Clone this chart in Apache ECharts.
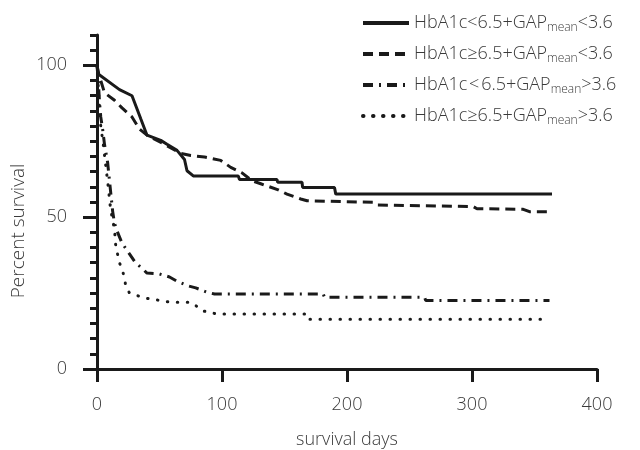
<!DOCTYPE html>
<html>
<head>
<meta charset="utf-8">
<script src="https://cdn.jsdelivr.net/npm/echarts@6/dist/echarts.min.js"></script>
<style>
html,body{margin:0;padding:0;background:#fff;}
#chart{width:640px;height:450px;}
</style>
</head>
<body>
<div id="chart"></div>
<script>
// ---- data ----
var seriesNames = [
  'HbA1c<6.5+GAPmean<3.6',
  'HbA1c≥6.5+GAPmean<3.6',
  'HbA1c\u200a<\u200a6.5+GAPmean>3.6',
  'HbA1c≥6.5+GAPmean>3.6'
];
var xTicks = [0, 100, 200, 300, 400];
var yLabels = [0, 50, 100];

var days1 = [0, 1, 1.5, 18, 28, 29, 35, 40, 51, 56, 64, 70, 72, 77, 113, 114, 144, 144.5, 164, 164.5, 190, 191, 364];
var surv1 = [100, 100, 97, 92, 90, 89.5, 82.4, 77, 75.3, 74, 72, 69, 65.3, 63.6, 63.6, 62.4, 62.4, 61.5, 61.5, 59.8, 59.8, 57.6, 57.6];

var days2 = [0, 1, 3, 6, 14, 20, 28, 34, 40, 54, 67, 75, 86, 99, 107, 116, 124, 131, 145, 152, 163, 168, 221, 224, 301, 304, 341, 346, 364];
var surv2 = [100, 97, 95, 91, 88.5, 86, 83, 79, 77, 74, 71, 70.3, 69.8, 68.7, 66.4, 64.6, 62, 61, 59, 57.6, 56, 55.4, 54.9, 54, 53.5, 52.8, 52.6, 51.8, 51.8];

var days3 = [0, 1, 2, 3, 4.5, 6, 8.5, 10, 11, 12.5, 14, 16.5, 20, 24.5, 30, 34, 40, 50, 58, 64, 72, 79, 88, 94, 181, 182, 262, 263, 362];
var surv3 = [100, 95, 88, 83, 79, 74, 68, 62, 58, 52, 48, 45, 41.5, 38.8, 35.5, 33.9, 31.6, 31.3, 30.3, 28.9, 27.5, 26.7, 25.3, 24.7, 24.7, 23.6, 23.6, 22.6, 22.6];

var days4 = [0, 1, 2, 3, 5, 7, 9, 10.5, 12, 14, 15, 18, 20.5, 22, 23, 26, 38, 59, 75, 80, 84, 96, 169, 170, 362];
var surv4 = [100, 93, 86, 80, 74, 67, 60, 54, 50, 46, 40.5, 35, 32.2, 30, 27.3, 25, 23.4, 22, 22, 20.6, 19.2, 18.1, 18.1, 16.4, 16.4];

function pairs(d, s) { return d.map(function (v, i) { return [v, s[i]]; }); }

var txt = '#3a3a3a';
var ink = '#1a1a1a';
var font = '"Open Sans", "Noto Sans", sans-serif';
var fw = 300;

var lineTypes = ['solid', [10, 6], [10, 6, 2, 6], [0.5, 9.5]];
var caps = ['butt', 'butt', 'butt', 'round'];
var datas = [pairs(days1, surv1), pairs(days2, surv2), pairs(days3, surv3), pairs(days4, surv4)];

var series = datas.map(function (d, i) {
  return {
    name: seriesNames[i],
    type: 'line',
    data: d,
    symbol: 'none',
    showSymbol: false,
    animation: false,
    lineStyle: { color: ink, width: 3, type: lineTypes[i], cap: caps[i] },
    itemStyle: { color: ink }
  };
});

var chart = echarts.init(document.getElementById('chart'), null, { renderer: 'canvas' });
chart.setOption({
  animation: false,
  backgroundColor: '#fff',
  textStyle: { fontFamily: font, fontWeight: fw },
  grid: { left: 97, right: 43, top: 35, bottom: 81, containLabel: false, outerBoundsMode: 'none' },
  legend: {
    orient: 'vertical',
    left: 356,
    top: 8,
    itemWidth: 46,
    itemHeight: 14,
    itemGap: 10,
    itemStyle: { color: 'rgba(0,0,0,0)', borderWidth: 0, opacity: 0 },
    lineStyle: { width: 4 },
    textStyle: {
      color: txt, fontSize: 18, fontFamily: font, fontWeight: fw, lineHeight: 20,
      rich: { sub: { fontSize: 12, color: txt, fontFamily: font, fontWeight: fw, padding: [10, 0, 0, 0] } }
    },
    formatter: function (n) { return n.replace('mean', '{sub|mean}'); },
    data: seriesNames
  },
  xAxis: {
    type: 'value', min: 0, max: 400, interval: 100,
    axisLine: { lineStyle: { color: ink, width: 3 } },
    axisTick: { show: true, length: 13, lineStyle: { color: ink, width: 3 } },
    splitLine: { show: false },
    axisLabel: { color: txt, fontSize: 18, margin: 27, fontFamily: font, fontWeight: fw,
      customValues: xTicks },
    name: 'survival days', nameLocation: 'middle', nameGap: 62,
    nameTextStyle: { color: txt, fontSize: 18, fontFamily: font, fontWeight: fw }
  },
  yAxis: [{
    type: 'value', min: 0, max: 110, interval: 5,
    axisLine: { lineStyle: { color: ink, width: 3 } },
    axisTick: { show: true, length: 7, lineStyle: { color: ink, width: 3 } },
    axisLabel: { show: false },
    splitLine: { show: false }
  }, {
    type: 'value', min: 0, max: 110, interval: 5, position: 'left',
    axisLine: { show: false },
    axisTick: { show: true, length: 14, customValues: yLabels, lineStyle: { color: ink, width: 3 } },
    axisLabel: { show: true, customValues: yLabels, color: txt, fontSize: 18, margin: 30, fontFamily: font, fontWeight: fw,
      padding: [3, 0, 0, 0] },
    splitLine: { show: false }
  }],
  graphic: [{
    type: 'text', x: 9, y: 231, rotation: Math.PI / 2,
    style: { text: 'Percent survival', fill: txt, font: fw + ' 19px ' + font, align: 'center', verticalAlign: 'top' }
  }],
  series: series
});
</script>
</body>
</html>
